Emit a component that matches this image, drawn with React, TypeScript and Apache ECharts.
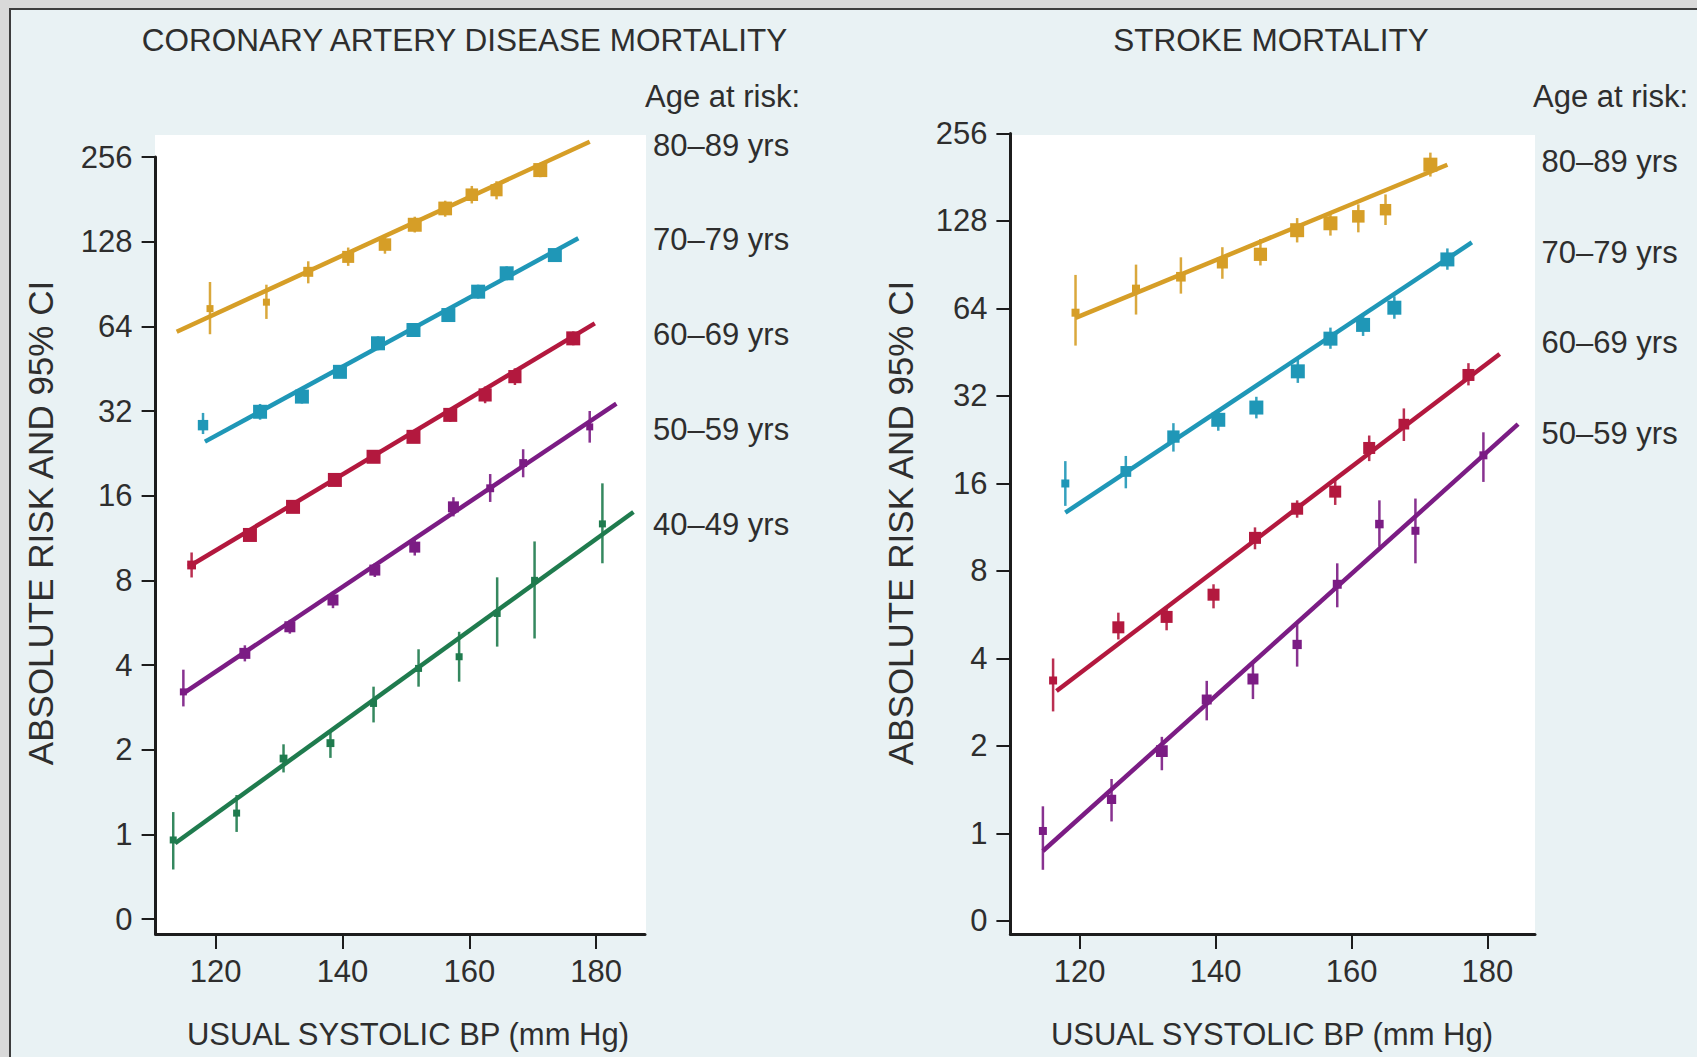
import React, { useEffect, useRef } from "react";
import * as echarts from "echarts";

// ---------- axis ticks ----------
const X_TICKS = [120, 140, 160, 180];
const Y_TICK_LABELS = ["0", "1", "2", "4", "8", "16", "32", "64", "128", "256"]; // log2 steps from -1 to 8
const Y_TICK_POS = [-1, 0, 1, 2, 3, 4, 5, 6, 7, 8];

const AGE_LABELS_CAD = ["80–89 yrs", "70–79 yrs", "60–69 yrs", "50–59 yrs", "40–49 yrs"];
const AGE_LABELS_STROKE = ["80–89 yrs", "70–79 yrs", "60–69 yrs", "50–59 yrs"];

// ---------- Coronary artery disease mortality ----------
const cad80_bp = [119.1, 128.0, 134.6, 140.9, 146.7, 151.4, 156.2, 160.4, 164.3, 171.2];
const cad80_risk = [74, 78, 100, 113, 125, 147, 168, 188, 195, 230];
const cad80_lo = [60, 68, 91, 105, 116, 138, 157, 175, 181, 217];
const cad80_hi = [92, 90, 109, 122, 134, 157, 179, 202, 210, 244];
const cad80_fit = [[113.85, 61.2], [179.0, 290]];

const cad70_bp = [118.0, 127.0, 133.6, 139.6, 145.6, 151.2, 156.7, 161.4, 165.9, 173.5];
const cad70_risk = [28.5, 31.8, 36, 44.1, 55.7, 62.1, 70.2, 85, 98.8, 114.7];
const cad70_lo = [26.5, 29.8, 34, 42.4, 52.6, 59.5, 67.3, 80.3, 93.3, 110];
const cad70_hi = [31.5, 33.9, 38, 45.9, 59, 64.8, 73.3, 90, 104.6, 119.6];
const cad70_fit = [[118.3, 24.9], [177.2, 131.6]];

const cad60_bp = [116.2, 125.4, 132.2, 138.8, 144.9, 151.2, 157.0, 162.5, 167.2, 176.4];
const cad60_risk = [9.07, 11.6, 14.6, 18.2, 22, 25.9, 31, 36.5, 42.4, 58];
const cad60_lo = [8.19, 11.05, 13.9, 17.3, 21, 24.7, 29.3, 34.1, 39.6, 54.8];
const cad60_hi = [10.05, 12.2, 15.3, 19.1, 23.1, 27.2, 32.8, 39.1, 45.4, 61.4];
const cad60_fit = [[115.7, 8.94], [179.8, 65.6]];

const cad50_bp = [114.9, 124.6, 131.7, 138.5, 145.1, 151.4, 157.5, 163.3, 168.5, 179.0];
const cad50_risk = [3.21, 4.4, 5.47, 6.81, 8.7, 10.5, 14.6, 17, 20.9, 28.1];
const cad50_lo = [2.85, 4.12, 5.17, 6.37, 8.22, 9.8, 13.5, 15.2, 18.6, 24.7];
const cad50_hi = [3.85, 4.7, 5.79, 7.28, 9.2, 11.25, 15.8, 19.1, 23.4, 32];
const cad50_fit = [[114.9, 3.17], [183.2, 34]];

const cad40_bp = [113.3, 123.3, 130.7, 138.1, 144.9, 152.0, 158.4, 164.4, 170.3, 181.0];
const cad40_risk = [0.955, 1.19, 1.86, 2.11, 2.92, 3.89, 4.28, 6.1, 8.0, 12.7];
const cad40_lo = [0.75, 1.02, 1.66, 1.87, 2.5, 3.35, 3.49, 4.65, 4.97, 9.2];
const cad40_hi = [1.2, 1.38, 2.09, 2.35, 3.35, 4.55, 5.25, 8.2, 11, 17.7];
const cad40_fit = [[113.6, 0.93], [185.9, 14.0]];

// ---------- Stroke mortality ----------
const str80_bp = [119.4, 128.3, 134.9, 141.0, 146.6, 152.0, 156.9, 161.0, 165.0, 171.6];
const str80_risk = [61.9, 74.9, 82.3, 91.8, 98.3, 119, 125.7, 132.8, 140, 200];
const str80_lo = [47.7, 61, 72, 81, 90, 108, 114, 117, 124, 182];
const str80_hi = [83.5, 90.6, 96, 104, 111, 131, 138, 146, 158, 220];
const str80_fit = [[119.4, 59.4], [174.1, 199.8]];

const str70_bp = [117.9, 126.8, 133.8, 140.4, 146.0, 152.1, 156.9, 161.7, 166.3, 174.1];
const str70_risk = [16.0, 17.6, 23.2, 26.5, 29.2, 38.9, 50.4, 56.2, 64.4, 94.4];
const str70_lo = [13.4, 15.4, 20.6, 24.3, 26.8, 35.5, 46.5, 51.5, 59, 87];
const str70_hi = [19.1, 19.9, 25.8, 28.8, 31.8, 43, 55, 61.5, 70.5, 103];
const str70_fit = [[117.9, 12.7], [177.7, 108]];

const str60_bp = [116.1, 125.7, 132.8, 139.7, 145.8, 152.0, 157.6, 162.6, 167.7, 177.2];
const str60_risk = [3.36, 5.12, 5.56, 6.63, 10.4, 13.1, 15.0, 21.2, 25.6, 37.8];
const str60_lo = [2.63, 4.65, 5.0, 5.95, 9.5, 12.2, 13.5, 19.1, 22.4, 34.8];
const str60_hi = [4.0, 5.75, 6.0, 7.2, 11.3, 14.0, 16.7, 23.4, 29, 41.5];
const str60_fit = [[116.6, 3.09], [181.8, 44.6]];

const str50_bp = [114.6, 124.7, 132.1, 138.7, 145.5, 152.0, 157.9, 164.1, 169.4, 179.4];
const str50_risk = [1.02, 1.31, 1.92, 2.89, 3.4, 4.47, 7.2, 11.6, 11.0, 20.0];
const str50_lo = [0.75, 1.1, 1.65, 2.45, 2.9, 3.75, 6.0, 9.7, 8.5, 16.2];
const str50_hi = [1.24, 1.54, 2.15, 3.35, 3.85, 5.25, 8.5, 14.0, 14.2, 24.0];
const str50_fit = [[114.6, 0.87], [184.5, 25.6]];

const COLORS = {
  y80: "#d69e27",
  y70: "#1f97b7",
  y60: "#b3183e",
  y50: "#7b1c84",
  y40: "#1f7b4e",
};

const FONT = "'Liberation Sans', Arial, Helvetica, sans-serif";
const TEXT_COLOR = "#2e2e2e";

type Group = {
  bp: number[];
  risk: number[];
  lo: number[];
  hi: number[];
  fit: number[][];
  color: string;
  name: string;
  markerK: number;
  markerMin: number;
  markerMax: number;
};

const log2 = (v: number) => Math.log(v) / Math.LN2;

function buildSeries(g: Group, gridIndex: number): any[] {
  const pts = g.bp.map((x, i) => {
    const w = log2(g.hi[i]) - log2(g.lo[i]);
    const size = Math.max(g.markerMin, Math.min(g.markerMax, g.markerK / w));
    return [x, log2(g.risk[i]), size];
  });
  const errs = g.bp.map((x, i) => [x, log2(g.lo[i]), log2(g.hi[i])]);
  return [
    {
      type: "line",
      name: g.name,
      xAxisIndex: gridIndex,
      yAxisIndex: gridIndex,
      data: g.fit.map((p) => [p[0], log2(p[1])]),
      symbol: "none",
      clip: false,
      lineStyle: { color: g.color, width: 4.5 },
      z: 3,
      silent: true,
    },
    {
      type: "custom",
      name: g.name + " CI",
      xAxisIndex: gridIndex,
      yAxisIndex: gridIndex,
      data: errs,
      encode: { x: 0, y: [1, 2] },
      clip: false,
      z: 4,
      silent: true,
      renderItem: (params: any, api: any) => {
        const p1 = api.coord([api.value(0), api.value(1)]);
        const p2 = api.coord([api.value(0), api.value(2)]);
        return {
          type: "line",
          shape: { x1: p1[0], y1: p1[1], x2: p2[0], y2: p2[1] },
          style: { stroke: g.color, lineWidth: 2.5, opacity: 0.9 },
        };
      },
    },
    {
      type: "scatter",
      name: g.name + " points",
      xAxisIndex: gridIndex,
      yAxisIndex: gridIndex,
      data: pts,
      symbol: "rect",
      clip: false,
      symbolSize: (val: number[]) => val[2],
      itemStyle: { color: g.color, opacity: 1 },
      z: 5,
      silent: true,
    },
  ];
}

function axisPair(gridIndex: number, xmin: number, xmax: number, ymin: number) {
  const lineStyle = { color: "#1c1c1c", width: 3 };
  const tickStyle = { color: "#1c1c1c", width: 2 };
  const labelStyle = { fontFamily: FONT, fontSize: 31, color: TEXT_COLOR };
  return {
    x: {
      type: "value",
      gridIndex,
      min: xmin,
      max: xmax,
      axisLine: { show: true, onZero: false, lineStyle },
      axisTick: { show: true, customValues: X_TICKS, length: 15, lineStyle: tickStyle },
      axisLabel: { show: true, customValues: X_TICKS, margin: 22, ...labelStyle },
      splitLine: { show: false },
    },
    y: {
      type: "value",
      gridIndex,
      min: ymin,
      max: 8,
      axisLine: { show: true, onZero: false, lineStyle },
      axisTick: { show: true, customValues: Y_TICK_POS, length: 14, lineStyle: tickStyle },
      axisLabel: {
        show: true,
        customValues: Y_TICK_POS,
        margin: 23,
        formatter: (v: number) => Y_TICK_LABELS[Math.round(v) + 1] ?? "",
        ...labelStyle,
      },
      splitLine: { show: false },
    },
  };
}

export default function App() {
  const ref = useRef<HTMLDivElement>(null);

  useEffect(() => {
    if (!ref.current) return;
    const chart = echarts.init(ref.current, undefined, { renderer: "svg" });

    const cadGroups: Group[] = [
      { bp: cad80_bp, risk: cad80_risk, lo: cad80_lo, hi: cad80_hi, fit: cad80_fit, color: COLORS.y80, name: "CAD " + AGE_LABELS_CAD[0], markerK: 2.6, markerMin: 7, markerMax: 14 },
      { bp: cad70_bp, risk: cad70_risk, lo: cad70_lo, hi: cad70_hi, fit: cad70_fit, color: COLORS.y70, name: "CAD " + AGE_LABELS_CAD[1], markerK: 2.6, markerMin: 7, markerMax: 14 },
      { bp: cad60_bp, risk: cad60_risk, lo: cad60_lo, hi: cad60_hi, fit: cad60_fit, color: COLORS.y60, name: "CAD " + AGE_LABELS_CAD[2], markerK: 2.6, markerMin: 7, markerMax: 14 },
      { bp: cad50_bp, risk: cad50_risk, lo: cad50_lo, hi: cad50_hi, fit: cad50_fit, color: COLORS.y50, name: "CAD " + AGE_LABELS_CAD[3], markerK: 2.6, markerMin: 7, markerMax: 11 },
      { bp: cad40_bp, risk: cad40_risk, lo: cad40_lo, hi: cad40_hi, fit: cad40_fit, color: COLORS.y40, name: "CAD " + AGE_LABELS_CAD[4], markerK: 2.6, markerMin: 7, markerMax: 8 },
    ];
    const strokeGroups: Group[] = [
      { bp: str80_bp, risk: str80_risk, lo: str80_lo, hi: str80_hi, fit: str80_fit, color: COLORS.y80, name: "Stroke " + AGE_LABELS_STROKE[0], markerK: 4, markerMin: 8, markerMax: 14 },
      { bp: str70_bp, risk: str70_risk, lo: str70_lo, hi: str70_hi, fit: str70_fit, color: COLORS.y70, name: "Stroke " + AGE_LABELS_STROKE[1], markerK: 4, markerMin: 8, markerMax: 14 },
      { bp: str60_bp, risk: str60_risk, lo: str60_lo, hi: str60_hi, fit: str60_fit, color: COLORS.y60, name: "Stroke " + AGE_LABELS_STROKE[2], markerK: 4, markerMin: 8, markerMax: 12 },
      { bp: str50_bp, risk: str50_risk, lo: str50_lo, hi: str50_hi, fit: str50_fit, color: COLORS.y50, name: "Stroke " + AGE_LABELS_STROKE[3], markerK: 4.5, markerMin: 8, markerMax: 12 },
    ];

    const left = axisPair(0, 110.52, 187.72, -1.177);
    const right = axisPair(1, 109.82, 186.99, -1.149);

    const series: any[] = [];
    cadGroups.forEach((g) => series.push(...buildSeries(g, 0)));
    strokeGroups.forEach((g) => series.push(...buildSeries(g, 1)));

    const txt = (text: string, x: number, y: number, align: string, extra: any = {}) => ({
      type: "text",
      x,
      y,
      z: 10,
      silent: true,
      style: {
        text,
        fill: TEXT_COLOR,
        font: `31px ${FONT}`,
        textAlign: align,
        textVerticalAlign: "middle",
        ...(extra.style || {}),
      },
      ...(extra.el || {}),
    });

    const cadLabelY = [145, 239, 334, 429, 524];
    const strokeLabelY = [161.5, 252, 342.5, 433];

    const graphics: any[] = [
      {
        type: "rect",
        z: -20,
        silent: true,
        shape: { x: 10, y: 9, width: 1700, height: 1060 },
        style: { fill: "#e9f2f4", stroke: "#3d3d3d", lineWidth: 2 },
      },
      { type: "rect", z: -10, silent: true, shape: { x: 155, y: 135, width: 491, height: 799 }, style: { fill: "#ffffff" } },
      { type: "rect", z: -10, silent: true, shape: { x: 1010, y: 135, width: 525, height: 799 }, style: { fill: "#ffffff" } },
      txt("CORONARY ARTERY DISEASE MORTALITY", 464.5, 39.5, "center", { style: { font: `31.5px ${FONT}` } }),
      txt("STROKE MORTALITY", 1271, 39.5, "center", { style: { font: `31.5px ${FONT}` } }),
      txt("Age at risk:", 645, 96, "left"),
      txt("Age at risk:", 1533, 96, "left"),
      ...AGE_LABELS_CAD.map((l, i) => txt(l, 653, cadLabelY[i], "left")),
      ...AGE_LABELS_STROKE.map((l, i) => txt(l, 1541.5, strokeLabelY[i], "left")),
      txt("USUAL SYSTOLIC BP (mm Hg)", 408, 1034, "center"),
      txt("USUAL SYSTOLIC BP (mm Hg)", 1272, 1034, "center"),
      txt("ABSOLUTE RISK AND 95% CI", 40.5, 523, "center", {
        style: { font: `35px ${FONT}` },
        el: { rotation: Math.PI / 2 },
      }),
      txt("ABSOLUTE RISK AND 95% CI", 900.5, 523, "center", {
        style: { font: `35px ${FONT}` },
        el: { rotation: Math.PI / 2 },
      }),
    ];

    chart.setOption({
      animation: false,
      backgroundColor: "#d9d9d9",
      grid: [
        { left: 155.6, top: 157, width: 489.4, height: 777, containLabel: false },
        { left: 1010.4, top: 133.5, width: 524.6, height: 800.5, containLabel: false },
      ],
      xAxis: [left.x, right.x],
      yAxis: [left.y, right.y],
      series,
      graphic: { elements: graphics },
    });

    return () => {
      chart.dispose();
    };
  }, []);

  return (
    <div
      ref={ref}
      style={{ position: "absolute", left: 0, top: 0, width: 1697, height: 1057 }}
    />
  );
}
